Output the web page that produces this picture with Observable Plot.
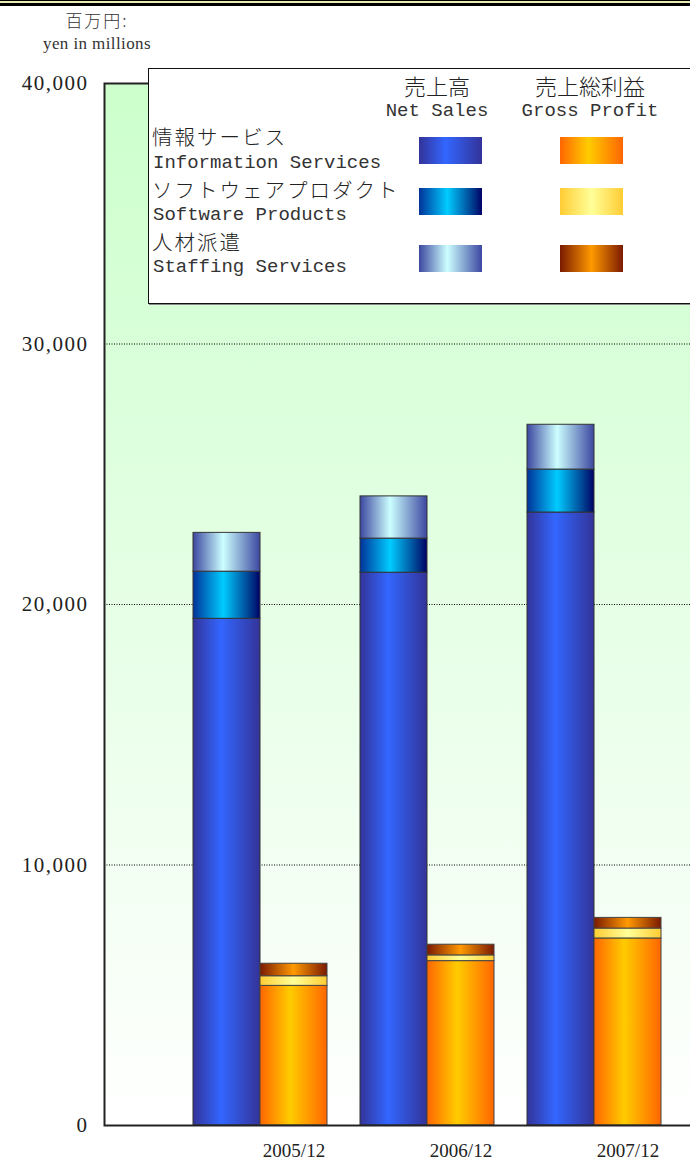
<!DOCTYPE html>
<html>
<head>
<meta charset="utf-8">
<script src="https://cdn.jsdelivr.net/npm/d3@7"></script>
<script src="https://cdn.jsdelivr.net/npm/@observablehq/plot@0.6"></script>
<style>
  html, body { margin: 0; padding: 0; background: #fff; overflow: hidden; }
  #page { position: relative; width: 690px; height: 1162px; overflow: hidden; }
  #chart { position: absolute; left: 0; top: 0; width: 700px; }
  #chart svg { max-width: none !important; width: 700px; height: 1162px; }
  .abs { position: absolute; white-space: nowrap; }
  .mono { font-family: "Liberation Mono", monospace; font-size: 19px; color: #333; }
  .ja { font-family: "Noto Sans CJK JP", sans-serif; font-size: 22px; color: #222; font-weight: 300; }
  #chart svg g[aria-label="y-axis tick label"] text { letter-spacing: 1.5px; }
</style>
</head>
<body>
<div id="page">
  <div id="chart"></div>
</div>
<script>
// ---- data (millions of yen) ----
const years = ["2005/12", "2006/12", "2007/12"];
const netSalesInfo     = [19450, 21220, 23530];
const netSalesSoftware = [1810, 1310, 1650];
const netSalesStaffing = [1490, 1620, 1720];
const grossInfo        = [5360, 6310, 7180];
const grossSoftware    = [370, 220, 380];
const grossStaffing    = [480, 410, 410];
const yTicks = [0, 10000, 20000, 30000, 40000];

const legendJa = ["情報サービス", "ソフトウェアプロダクト", "人材派遣"];
const legendEn = ["Information Services", "Software Products", "Staffing Services"];
const measureJa = ["売上高", "売上総利益"];
const measureEn = ["Net Sales", "Gross Profit"];
const unitJa = "百万円:";
const unitEn = "yen in millions";

// ---- gradients (style) ----
const gradients = {
  "net-info":      [[0, "#333399"], [0.42, "#3366ff"], [1, "#333399"]],
  "net-software":  [[0, "#003399"], [0.45, "#00ccff"], [0.9, "#002a80"], [1, "#000066"]],
  "net-staffing":  [[0, "#3c47a0"], [0.45, "#ccffff"], [1, "#3c47a0"]],
  "gross-info":    [[0, "#ff6600"], [0.45, "#ffcc00"], [1, "#ff6600"]],
  "gross-software":[[0, "#ffcc33"], [0.5, "#ffff99"], [1, "#ffcc33"]],
  "gross-staffing":[[0, "#7a1a00"], [0.5, "#ff9900"], [1, "#7a1a00"]]
};
const segKeys = Object.keys(gradients);

const net = [], gross = [];
years.forEach((yr, i) => {
  net.push({year: yr, seg: "net-info", value: netSalesInfo[i]});
  net.push({year: yr, seg: "net-software", value: netSalesSoftware[i]});
  net.push({year: yr, seg: "net-staffing", value: netSalesStaffing[i]});
  gross.push({year: yr, seg: "gross-info", value: grossInfo[i]});
  gross.push({year: yr, seg: "gross-software", value: grossSoftware[i]});
  gross.push({year: yr, seg: "gross-staffing", value: grossStaffing[i]});
});

function defsMark() {
  const defs = d3.create("svg:defs");
  for (const [id, stops] of Object.entries(gradients)) {
    const g = defs.append("linearGradient").attr("id", "g-" + id)
      .attr("x1", 0).attr("x2", 1).attr("y1", 0).attr("y2", 0);
    stops.forEach(([o, c]) => g.append("stop").attr("offset", o).attr("stop-color", c));
  }
  const bg = defs.append("linearGradient").attr("id", "g-bg")
    .attr("x1", 0).attr("x2", 0).attr("y1", 0).attr("y2", 1);
  bg.append("stop").attr("offset", 0).attr("stop-color", "#ccffcc");
  bg.append("stop").attr("offset", 1).attr("stop-color", "#ffffff");
  return defs.node();
}

const fmt = d3.format(",");
const chart = Plot.plot({
  width: 700,
  height: 1162,
  marginLeft: 104,
  marginTop: 83,
  marginBottom: 37,
  marginRight: 0,
  style: {fontFamily: "'Liberation Serif', serif", background: "transparent", color: "#222", maxWidth: "none"},
  x: {type: "band", domain: years, range: [175.25, 677.75], paddingInner: 0.2, paddingOuter: 0.1, label: null},
  y: {domain: [0, 40000], label: null},
  color: {domain: segKeys, range: segKeys.map(k => `url(#g-${k})`)},
  marks: [
    defsMark,
    Plot.frame({fill: "url(#g-bg)", stroke: "none"}),
    Plot.ruleY(yTicks.slice(1, -1), {stroke: "#000", strokeWidth: 1, strokeDasharray: "1,1.5"}),
    Plot.barY(net, {x: "year", y: "value", fill: "seg", stroke: "#333", strokeWidth: 1, insetRight: 67}),
    Plot.barY(gross, {x: "year", y: "value", fill: "seg", stroke: "#444", strokeWidth: 1, insetLeft: 67}),
    Plot.frame({stroke: "#222", strokeWidth: 2, fill: "none"}),
    Plot.axisY({ticks: yTicks, tickFormat: fmt, tickSize: 0, tickPadding: 16, fontSize: 21, label: null}),
    Plot.axisX({tickSize: 0, tickPadding: 18, dx: 33.5, fontSize: 19, label: null})
  ]
});
chart.style.maxWidth = "none";
document.getElementById("chart").appendChild(chart);

// ---- HTML overlays: header rules, unit label, legend ----
const page = document.getElementById("page");
function add(html, css, cls) {
  const d = document.createElement("div");
  d.className = "abs " + (cls || "");
  d.innerHTML = html;
  Object.assign(d.style, css);
  page.appendChild(d);
  return d;
}
// header rules
add("", {left: "0", top: "0", width: "690px", height: "1px", background: "#000"});
add("", {left: "0", top: "1px", width: "690px", height: "2px", background: "#ecebb0"});
add("", {left: "0", top: "3px", width: "690px", height: "3px", background: "#000"});

// unit label (centered at x=97)
add(unitJa, {left: "37px", width: "120px", top: "9px", lineHeight: "22px", textAlign: "center",
  fontFamily: "'Noto Sans CJK JP', sans-serif", fontSize: "17px", letterSpacing: "2px", color: "#333", fontWeight: "300"});
add(unitEn, {left: "7px", width: "180px", top: "33px", lineHeight: "22px", textAlign: "center",
  fontFamily: "'Liberation Serif', serif", fontSize: "17px", letterSpacing: "0.4px", color: "#333"});

// legend box
add("", {left: "148px", top: "68px", width: "560px", height: "236px", background: "#fff",
  border: "1.5px solid #111", boxSizing: "border-box", boxShadow: "1px 1px 0 #888"});

// column headers
const colCenters = [437, 590];
measureJa.forEach((t, j) => {
  add(t, {left: (colCenters[j] - 80) + "px", width: "160px", top: "73px", lineHeight: "24px", textAlign: "center"}, "ja");
  add(measureEn[j], {left: (colCenters[j] - 90) + "px", width: "180px", top: "101px", lineHeight: "20px", textAlign: "center"}, "mono");
});
// rows
const jaY = [136, 188.5, 241], enY = [162.5, 215, 267], swY = [150, 201, 258];
const swX = [450, 591];
legendJa.forEach((t, i) => {
  add(t, {left: "152px", top: (jaY[i] - 12) + "px", lineHeight: "24px", fontSize: "20.5px", letterSpacing: "2px"}, "ja");
  add(legendEn[i], {left: "153px", top: (enY[i] - 10) + "px", lineHeight: "20px"}, "mono");
  ["net", "gross"].forEach((m, j) => {
    const stops = gradients[m + "-" + segKeys[i].split("-")[1]];
    const grad = "linear-gradient(to right, " + stops.map(([o, c]) => `${c} ${o * 100}%`).join(", ") + ")";
    add("", {left: (swX[j] - 31) + "px", top: (swY[i] - 13) + "px", width: "63px", height: "27px", background: grad});
  });
});
</script>
</body>
</html>
